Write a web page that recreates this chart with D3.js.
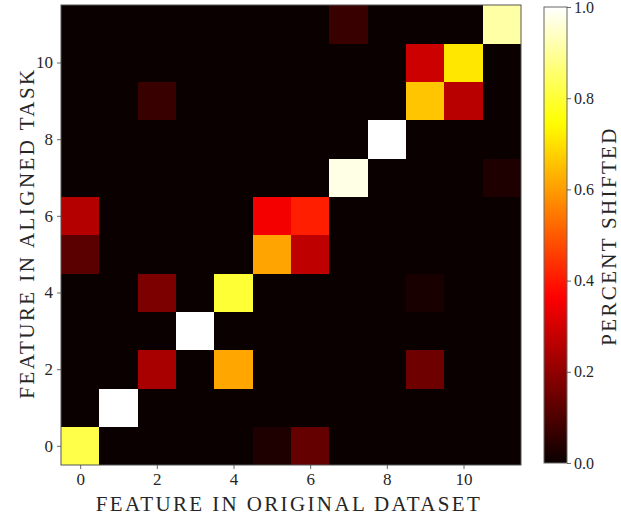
<!DOCTYPE html>
<html>
<head>
<meta charset="utf-8">
<script src="https://cdn.jsdelivr.net/npm/d3@7"></script>
<style>
  html, body { margin: 0; padding: 0; background: #fff; }
  svg { display: block; }
  text { font-family: "Liberation Serif", "DejaVu Serif", serif; fill: #262626; }
</style>
</head>
<body>
<svg id="chart" width="621" height="517"></svg>
<script>
// ---- data ----
const xCategories = [0,1,2,3,4,5,6,7,8,9,10,11];   // feature in original dataset
const yCategories = [0,1,2,3,4,5,6,7,8,9,10,11];   // feature in aligned task
// non-zero cells: [x (original), y (aligned), value]
const cellX = [7, 11, 9, 10, 2, 9, 10, 8, 7, 11, 0, 5, 6, 0, 5, 6, 2, 4, 9, 3, 2, 4, 9, 1, 0, 5, 6];
const cellY = [11, 11, 10, 10, 9, 9, 9, 8, 7, 7, 6, 6, 6, 5, 5, 5, 4, 4, 4, 3, 2, 2, 2, 1, 0, 0, 0];
const cellV = [0.07, 0.91, 0.29, 0.71, 0.07, 0.66, 0.26, 1.0, 0.975, 0.03, 0.255, 0.35, 0.41, 0.12, 0.61, 0.27, 0.17, 0.80, 0.02, 1.0, 0.235, 0.615, 0.15, 1.0, 0.82, 0.03, 0.135];
const xTickValues = [0, 2, 4, 6, 8, 10];
const yTickValues = [0, 2, 4, 6, 8, 10];
const cbTickValues = [0.0, 0.2, 0.4, 0.6, 0.8, 1.0];
const xLabel = "FEATURE IN ORIGINAL DATASET";
const yLabel = "FEATURE IN ALIGNED TASK";
const cbLabel = "PERCENT SHIFTED";

// ---- build full matrix ----
const matrix = [];
yCategories.forEach(yy => xCategories.forEach(xx => matrix.push({x: xx, y: yy, v: 0})));
cellX.forEach((xx, i) => {
  const c = matrix.find(d => d.x === xx && d.y === cellY[i]);
  c.v = cellV[i];
});

// matplotlib "hot" colormap
function hot(t) {
  t = Math.max(0, Math.min(1, t));
  const r = t < 0.365079 ? 0.0416 + (1 - 0.0416) * t / 0.365079 : 1;
  const g = t < 0.365079 ? 0 : (t < 0.746032 ? (t - 0.365079) / (0.746032 - 0.365079) : 1);
  const b = t < 0.746032 ? 0 : (t - 0.746032) / (1 - 0.746032);
  return d3.rgb(r * 255, g * 255, b * 255).formatHex();
}

const svg = d3.select("#chart");
const L = 61, T = 5, W = 460, H = 460;

const x = d3.scaleLinear().domain([-0.5, 11.5]).range([L, L + W]);
const y = d3.scaleLinear().domain([-0.5, 11.5]).range([T + H, T]);
const color = d3.scaleSequential(hot).domain([0, 1]);

// cells
svg.append("g").selectAll("rect").data(matrix).join("rect")
  .attr("x", d => x(d.x - 0.5))
  .attr("y", d => y(d.y + 0.5))
  .attr("width", d => x(d.x + 0.5) - x(d.x - 0.5) + 0.3)
  .attr("height", d => y(d.y - 0.5) - y(d.y + 0.5) + 0.3)
  .attr("fill", d => color(d.v))
  .attr("shape-rendering", "crispEdges");

// frame
svg.append("rect").attr("x", L).attr("y", T).attr("width", W).attr("height", H)
  .attr("fill", "none").attr("stroke", "#555").attr("stroke-width", 1);

// axes
const xAxis = svg.append("g").attr("transform", `translate(0,${T + H})`)
  .call(d3.axisBottom(x).tickValues(xTickValues).tickFormat(d3.format("d")).tickSize(4).tickPadding(4));
const yAxis = svg.append("g").attr("transform", `translate(${L},0)`)
  .call(d3.axisLeft(y).tickValues(yTickValues).tickFormat(d3.format("d")).tickSize(4).tickPadding(4));
[xAxis, yAxis].forEach(a => {
  a.select(".domain").remove();
  a.selectAll(".tick line").attr("stroke", "#444").attr("stroke-width", 0.8);
  a.selectAll(".tick text").style("font-size", "17px").style("font-family", '"Liberation Serif", serif').attr("fill", "#444");
});

// axis labels (letter-spacing fitted to reference widths)
function fitText(sel, target) {
  const w = sel.node().getComputedTextLength();
  const n = sel.text().length;
  sel.style("letter-spacing", ((target - w) / (n - 1)).toFixed(2) + "px");
}
const xl = svg.append("text").attr("x", 289).attr("y", 511).attr("text-anchor", "middle")
  .style("font-size", "21px").text(xLabel);
fitText(xl, 384);
const yl = svg.append("text").attr("transform", "translate(34,233) rotate(-90)").attr("text-anchor", "middle")
  .style("font-size", "21px").text(yLabel);
fitText(yl, 329);

// colorbar
const CBX = 544, CBW = 23, CBT = 7, CBH = 456;
const defs = svg.append("defs");
const grad = defs.append("linearGradient").attr("id", "cbgrad")
  .attr("x1", 0).attr("y1", 1).attr("x2", 0).attr("y2", 0);
d3.range(0, 1.0001, 0.02).forEach(t => {
  grad.append("stop").attr("offset", t).attr("stop-color", hot(t));
});
svg.append("rect").attr("x", CBX).attr("y", CBT).attr("width", CBW).attr("height", CBH)
  .attr("fill", "url(#cbgrad)").attr("stroke", "#666").attr("stroke-width", 1);
const cbScale = d3.scaleLinear().domain([0, 1]).range([CBT + CBH, CBT]);
const cbAxis = svg.append("g").attr("transform", `translate(${CBX + CBW},0)`)
  .call(d3.axisRight(cbScale).tickValues(cbTickValues).tickFormat(d3.format(".1f")).tickSize(4).tickPadding(3));
cbAxis.select(".domain").remove();
cbAxis.selectAll(".tick line").attr("stroke", "#444").attr("stroke-width", 0.8);
cbAxis.selectAll(".tick text").style("font-size", "16px").style("font-family", '"Liberation Serif", serif').attr("fill", "#444");

const cl = svg.append("text").attr("transform", "translate(616,236) rotate(-90)").attr("text-anchor", "middle")
  .style("font-size", "21px").text(cbLabel);
fitText(cl, 217);
</script>
</body>
</html>
